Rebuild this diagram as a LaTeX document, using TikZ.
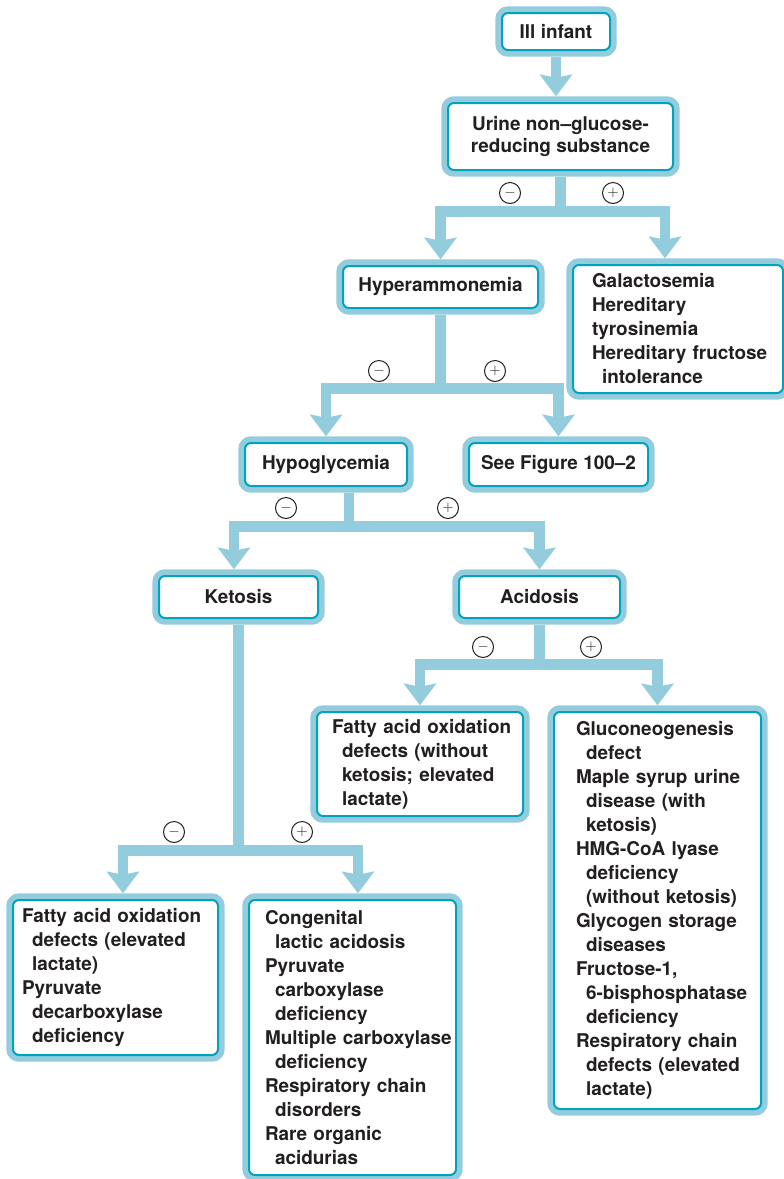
\documentclass[tikz,border=0pt]{standalone}
\usepackage{fontspec}
\setmainfont{TeX Gyre Heros}
\usetikzlibrary{arrows.meta}

\definecolor{boxblue}{HTML}{93CDDD}
\definecolor{boxline}{HTML}{00A3BE}
\definecolor{ink}{HTML}{231F20}
\newcommand{\ind}{\hspace*{7.5pt}}

\tikzset{
  box/.style={draw=boxline, line width=1.5pt, fill=white, rounded corners=4.5pt,
    preaction={draw=boxblue, line width=10pt}, outer sep=5pt, inner sep=0pt,
    text=ink, font=\fontsize{14.2}{18}\selectfont\bfseries, align=center},
  listbox/.style 2 args={box, align=left, text width=#1,
    execute at begin node={\leftskip=#2}},
  sign/.style={circle, draw=ink, line width=.75pt, minimum size=15.75pt,
    inner sep=0pt, text=ink, font=\fontsize{11}{11}\selectfont},
  link/.style={draw=boxblue, line width=8pt,
    -{Stealth[length=16.5pt,width=24.75pt,inset=2.5pt,line width=0pt]}}
}

\begin{document}
\begin{tikzpicture}[x=.75pt,y=-.75pt]
\useasboundingbox (0,0) rectangle (784,1179);

% boxes
\node[box, minimum width=81pt, minimum height=27.75pt] (infant) at (556,31.5) {Ill infant};
\node[box, minimum width=168.75pt, minimum height=50.25pt] (urine) at (560.5,136.5)
  {Urine non--glucose-\\[-2pt]reducing substance};
\node[box, minimum width=146.25pt, minimum height=31.5pt] (hyper) at (440.5,287) {Hyperammonemia};
\node[listbox={157.5pt}{14.25pt}, minimum height=96pt] (galac) at (678,329)
  {Galactosemia\\
   Hereditary\\
   tyrosinemia\\
   Hereditary fructose\\
   \ind intolerance};
\node[box, minimum width=121.5pt, minimum height=32.25pt] (hypo) at (326,464.5) {Hypoglycemia};
\node[box, minimum width=134.25pt, minimum height=32.25pt] (seefig) at (558.5,464.5) {See Figure 100--2};
\node[box, minimum width=119.25pt, minimum height=31.5pt] (ketosis) at (238.5,597) {Ketosis};
\node[box, minimum width=120.75pt, minimum height=31.5pt] (acidosis) at (539.5,597) {Acidosis};
\node[listbox={154.5pt}{11.25pt}, minimum height=78pt] (faonk) at (420,764)
  {Fatty acid oxidation\\
   \ind defects (without\\
   \ind ketosis; elevated\\
   \ind lactate)};
\node[listbox={155.25pt}{16.5pt}, minimum height=297.75pt] (glucon) at (657.5,910.5)
  {Gluconeogenesis\\
   \ind defect\\
   Maple syrup urine\\
   \ind disease (with\\
   \ind ketosis)\\
   HMG-CoA lyase\\
   \ind deficiency\\
   \ind (without ketosis)\\
   Glycogen storage\\
   \ind diseases\\
   Fructose-1,\\
   \ind 6-bisphosphatase\\
   \ind deficiency\\
   Respiratory chain\\
   \ind defects (elevated\\
   \ind lactate)};
\node[listbox={153.75pt}{6.75pt}, minimum height=116.25pt] (faoel) at (115.5,977.5)
  {Fatty acid oxidation\\
   \ind defects (elevated\\
   \ind lactate)\\
   Pyruvate\\
   \ind decarboxylase\\
   \ind deficiency};
\node[listbox={155.25pt}{12pt}, minimum height=206.25pt] (congen) at (352.5,1037.5)
  {Congenital\\
   \ind lactic acidosis\\
   Pyruvate\\
   \ind carboxylase\\
   \ind deficiency\\
   Multiple~carboxylase\\
   \ind deficiency\\
   Respiratory chain\\
   \ind disorders\\
   Rare organic\\
   \ind acidurias};

% connectors
\draw[link] (infant.south) -- (infant.south |- urine.north);
\draw[link] (urine.south) -- ++(0,35) -| (hyper.north);
\draw[link] (urine.south) -- ++(0,35) -| ([xshift=-9.75pt]galac.north);
\draw[link] (hyper.south) -- ++(0,74) -| (hypo.north);
\draw[link] (hyper.south) -- ++(0,74) -| (seefig.north);
\draw[link] ([xshift=17.25pt]hypo.south) -- ++(0,34) -| ([xshift=-3.4pt]ketosis.north);
\draw[link] ([xshift=17.25pt]hypo.south) -- ++(0,34) -| (acidosis.north);
\draw[link] (acidosis.south) -- ++(0,40) -| (faonk.north);
\draw[link] (acidosis.south) -- ++(0,40) -| (glucon.north);
\draw[link] (ketosis.south) -- ++(0,226) -| ([xshift=5.6pt]faoel.north);
\draw[link] (ketosis.south) -- ++(0,226) -| ([xshift=4.1pt]congen.north);

% signs
\node[sign] (urineneg) at (510,193) {$-$};
\node[sign] (urinepos) at (613,193) {$+$};
\node[sign] (hyperneg) at (379,371) {$-$};
\node[sign] (hyperpos) at (495,371) {$+$};
\node[sign] (hyponeg) at (286,508) {$-$};
\node[sign] (hypopos) at (448,508) {$+$};
\node[sign] (acidneg) at (483,647) {$-$};
\node[sign] (acidpos) at (591,647) {$+$};
\node[sign] (ketoneg) at (174,832) {$-$};
\node[sign] (ketopos) at (302,832) {$+$};
\end{tikzpicture}
\end{document}
